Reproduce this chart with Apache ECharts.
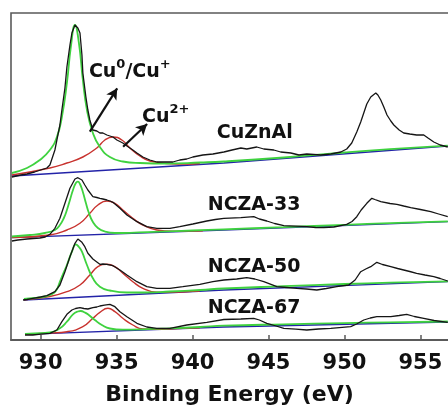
<!DOCTYPE html>
<html>
<head>
<meta charset="utf-8">
<script src="https://cdn.jsdelivr.net/npm/echarts@6/dist/echarts.min.js"></script>
<style>
  html, body { margin: 0; padding: 0; background: #ffffff; }
  #chart { width: 448px; height: 409px; }
</style>
</head>
<body>
<div id="chart"></div>
<script>
// Cu 2p XPS spectra, stacked with vertical offsets (intensity in a.u.)
const energyTicks = [930, 935, 940, 945, 950, 955];
const sampleNames = ['CuZnAl', 'NCZA-33', 'NCZA-50', 'NCZA-67'];
const peakNames = ['{n|Cu}{s|0}{n|/Cu}{s|+}', '{n|Cu}{s|2+}'];

// ---- CuZnAl ----
const cuznalRaw = [[928.11,163],[928.7,165],[929.1,166],[929.6,168],[930.41,172],[930.61,175],[930.94,190],[931.07,200],[931.27,215],[931.4,230],[931.6,252],[931.73,273],[931.93,295],[932.06,307],[932.26,315],[932.45,312],[932.59,307],[932.72,285],[932.78,267],[932.98,243],[933.11,230],[933.24,220],[933.44,210],[933.7,209],[933.9,207],[934.1,207],[934.36,205],[934.56,204],[934.76,203],[935.02,200],[935.41,197],[935.68,194],[936.07,190],[936.34,187],[936.73,183],[937.19,180],[937.65,178],[938.31,178],[938.7,178],[939.16,180],[939.62,181],[940.02,183],[940.68,185],[941.34,186],[942.06,188],[942.6,190],[943.18,192],[943.57,191],[944.23,193],[944.69,191],[945.35,190],[945.8,188],[946.47,187],[947.0,185],[947.52,186],[948.44,185],[949.1,186],[949.76,188],[950.15,191],[950.48,197],[950.81,208],[951.07,218],[951.27,227],[951.47,236],[951.73,243],[952.06,247],[952.2,245],[952.39,240],[952.59,233],[952.8,225],[953.05,219],[953.25,215],[953.6,210],[953.9,207],[954.3,206],[954.75,205],[955.22,205],[955.5,202],[955.88,198],[956.3,195],[956.8,193]];
const cuznalCu0 = [[928.11,167],[929.1,172],[929.95,180],[930.61,190],[931.07,203],[931.4,223],[931.73,257],[931.99,293],[932.26,315],[932.52,297],[932.78,260],[933.05,230],[933.44,207],[933.9,193],[934.56,183],[935.41,178.5],[936.53,177],[938.31,176.5],[940.5,177.5],[942.06,178.5],[946,182.5],[950,187.5],[953,190.8],[956.8,194.3]];
const cuznalCu2 = [[928.11,165],[930.61,172],[931.73,177],[932.78,183],[933.7,192],[934.23,200],[934.76,203],[935.35,200],[935.88,192],[936.53,184],[937.19,179],[938.31,176.5],[939.5,176],[940.48,176.5]];
const cuznalBg = [[928.11,164],[942.06,177],[956.8,194]];

// ---- NCZA-33 ----
const ncza33Raw = [[928.11,99],[928.5,100],[929.1,101],[929.5,101.5],[929.95,102],[930.3,103],[930.61,105.7],[930.94,111.7],[931.27,121.7],[931.6,136.7],[931.93,151.7],[932.26,161],[932.45,162.3],[932.72,160],[932.91,155],[933.11,150],[933.44,143.3],[933.7,142.5],[933.9,141.7],[934.1,141],[934.36,140],[934.56,139],[934.76,137.7],[935.22,131.7],[935.68,125],[936.34,118.3],[936.99,113.3],[937.65,111.7],[938.51,111.7],[939.16,113.3],[940.02,116],[940.94,119],[941.5,120.5],[942.06,121.7],[943.18,122.3],[944.03,123.3],[944.4,121],[944.89,119],[945.4,116.5],[946.01,114.3],[946.8,113.8],[947.52,113.3],[948.1,112.5],[948.64,112.3],[949.3,113],[950.15,115.7],[950.5,118.5],[950.81,123.3],[951.1,130],[951.47,136.7],[951.8,141.7],[952.0,140.5],[952.39,138.3],[953.0,136.5],[953.45,135.7],[953.9,134],[954.36,132.3],[955.0,130.5],[955.68,128.3],[956.2,126],[956.8,123.3]];
const ncza33Cu0 = [[928.11,103.5],[929.3,105],[930.28,107],[930.94,110],[931.27,115],[931.53,122],[931.73,130],[931.93,140],[932.13,150],[932.32,157],[932.45,158.3],[932.59,156],[932.78,148],[932.98,137],[933.18,127],[933.44,118],[933.77,112],[934.23,108.5],[934.89,107],[935.88,107.2],[937.85,108.3],[940,109.5],[942.06,110.7],[946,112.8],[950,115.2],[953,116.8],[956.8,118.6]];
const ncza33Cu2 = [[928.11,102.5],[930.61,105],[931.73,110],[932.59,116.7],[933.24,126.7],[933.77,135],[934.36,139],[934.89,136.7],[935.41,130],[936.07,121.7],[936.73,115],[937.65,110],[938.7,108.7],[940.02,109],[940.68,109.3]];
const ncza33Bg = [[928.11,102.3],[942.06,110],[956.8,118.3]];

// ---- NCZA-50 ----
const ncza50Raw = [[928.84,40],[929.1,40.5],[929.49,41.7],[930.0,43],[930.41,44.3],[930.94,48.3],[931.27,55],[931.6,68.3],[931.93,83.3],[932.26,96.7],[932.45,101],[932.72,97.7],[932.91,93.3],[933.11,86.7],[933.44,81],[933.7,78],[933.9,75.7],[934.1,76],[934.36,75.7],[934.76,74.3],[935.22,70],[935.68,65],[936.34,58.3],[936.99,53.3],[937.65,51.7],[938.51,51.7],[939.36,53.3],[940.48,55.7],[941.34,58.3],[942.06,60],[942.91,61],[943.57,62.3],[944.1,61],[944.69,58.3],[945.55,53.3],[946.2,52.5],[946.86,51.7],[947.5,51],[948.18,50],[948.8,51.5],[949.49,53.3],[950.28,55],[950.7,60],[951.07,68.3],[951.4,71],[951.73,73.3],[952.13,77.7],[952.5,75.5],[953.05,73.3],[953.5,71.5],[953.9,70],[954.3,68.5],[954.75,66.7],[955.3,65],[955.88,63.3],[956.3,61.5],[956.8,59]];
const ncza50Cu0 = [[928.9,41],[929.6,42],[930.28,43.5],[930.61,45],[931.0,49],[931.27,58.3],[931.53,68],[931.73,75],[932.06,88.3],[932.32,95.7],[932.52,93],[932.72,88.3],[933.05,75],[933.44,61.7],[933.9,53.3],[934.56,49.5],[935.68,47.5],[936.99,47.5],[938.5,48.5],[940.5,50],[942.06,51.5],[946,53.8],[950,56],[953,57.3],[956.8,58.6]];
const ncza50Cu2 = [[928.9,40.3],[930.61,43.5],[931.73,48.3],[932.59,55],[933.24,65],[933.77,73.3],[934.36,75.7],[934.89,73.3],[935.41,66.7],[936.07,58.3],[936.73,51.7],[937.65,47.7],[938.7,47.9],[940.02,48.6],[940.48,48.9]];
const ncza50Bg = [[928.9,40],[942.06,50],[956.8,58.3]];

// ---- NCZA-67 ----
const ncza67Raw = [[928.97,5],[929.49,5],[930.0,5.8],[930.61,6.7],[931.07,10],[931.4,18.3],[931.73,25.7],[932.06,30],[932.3,31.5],[932.59,32.3],[932.85,31.5],[933.11,31],[933.44,32.3],[933.7,33],[933.9,34],[934.2,34.8],[934.56,35.7],[934.89,33.3],[935.22,28.3],[935.68,23.3],[936.34,16.7],[936.99,13],[937.65,11.7],[938.51,11.7],[939.62,15],[940.94,17.7],[942.06,20.5],[943.18,21],[944.03,21.7],[944.4,20],[944.89,16.7],[945.5,14],[946.01,11.7],[946.8,10.8],[947.52,10],[948.3,11],[949.1,11.7],[950.41,13.3],[950.8,16],[951.27,20],[951.7,22],[952.13,23.3],[953.05,23.3],[953.6,24.5],[954.1,25.7],[954.6,23.5],[955.22,21.7],[955.9,19.5],[956.8,17.7]];
const ncza67Cu0 = [[928.97,6.2],[929.6,6.6],[930.61,7.5],[931.27,11.7],[931.73,18.3],[932.13,25.7],[932.45,28.5],[932.65,29],[932.91,27.5],[933.11,25.7],[933.57,20],[934.03,15],[934.56,11.5],[935.41,10.3],[936.73,10.6],[938.5,11.6],[940.5,13],[942.06,14.3],[946,15.7],[950,16.9],[953,17.7],[956.8,18.5]];
const ncza67Cu2 = [[928.97,5.8],[930.61,7],[931.73,8.3],[932.78,13.3],[933.44,21.7],[933.9,27.7],[934.43,31.7],[934.89,28.3],[935.41,21.7],[936.07,15],[936.73,11],[937.65,10.7],[938.7,11.3],[940.02,11.9],[940.48,12.1]];
const ncza67Bg = [[928.97,5.7],[942.06,13],[956.8,18]];

const rawSets = [cuznalRaw, ncza33Raw, ncza50Raw, ncza67Raw];
const cu0Sets = [cuznalCu0, ncza33Cu0, ncza50Cu0, ncza67Cu0];
const cu2Sets = [cuznalCu2, ncza33Cu2, ncza50Cu2, ncza67Cu2];
const bgSets = [cuznalBg, ncza33Bg, ncza50Bg, ncza67Bg];

const FONT = 'DejaVu Sans';
const COLORS = { raw: '#151515', cu0: '#3fd23f', cu2: '#c8322e', bg: '#2323a8', frame: '#5a5a5a' };

function curve(name, data, color, width, smooth, z) {
  return {
    type: 'line', name, data, symbol: 'none', showSymbol: false,
    smooth, lineStyle: { color, width }, z, silent: true, animation: false
  };
}

const series = [];
for (let i = 0; i < sampleNames.length; i++) {
  series.push(curve(sampleNames[i] + ' background', bgSets[i], COLORS.bg, 1.3, false, 2));
  series.push(curve(sampleNames[i] + ' Cu2+', cu2Sets[i], COLORS.cu2, 1.4, 0.5, 3));
  series.push(curve(sampleNames[i] + ' Cu0/Cu+', cu0Sets[i], COLORS.cu0, 1.8, 0.5, 4));
  series.push(curve(sampleNames[i], rawSets[i], COLORS.raw, 1.3, false, 5));
}

// arrows pointing from the fitted components to their labels
series[3].markLine = {
  silent: true, animation: false,
  symbol: ['none', 'arrow'], symbolSize: [9, 11],
  label: { show: false },
  lineStyle: { color: '#111', width: 2.2, type: 'solid' },
  data: [
    [{ coord: [933.24, 208.3] }, { coord: [935.04, 251.7] }],
    [{ coord: [935.43, 193.3] }, { coord: [937.01, 216] }]
  ]
};

const chart = echarts.init(document.getElementById('chart'), null, { renderer: 'canvas' });
chart.setOption({
  backgroundColor: '#ffffff',
  animation: false,
  grid: {
    left: 11, top: 13, width: 455, height: 327,
    outerBoundsMode: 'none', containLabel: false,
    show: true, borderColor: COLORS.frame, borderWidth: 1.6, backgroundColor: 'transparent'
  },
  xAxis: {
    type: 'value', min: 928.05, max: 958,
    axisLine: { show: true, lineStyle: { color: COLORS.frame, width: 1.8 } },
    axisTick: { show: true, inside: true, length: 5, lineStyle: { color: COLORS.frame, width: 1.5 }, customValues: energyTicks },
    axisLabel: { customValues: energyTicks, fontFamily: FONT, fontWeight: 'bold', fontSize: 21, color: '#111', margin: 13 },
    splitLine: { show: false },
    name: 'Binding Energy (eV)', nameLocation: 'middle', nameGap: 44,
    nameTextStyle: { fontFamily: FONT, fontWeight: 'bold', fontSize: 22, color: '#111', padding: [0, 18, 0, 0] }
  },
  yAxis: { type: 'value', min: 0, max: 327, show: false, splitLine: { show: false } },
  series
});

// text annotations anchored in data coordinates
const toPx = (e, v) => chart.convertToPixel({ gridIndex: 0 }, [e, v]);
const baseText = { fontFamily: FONT, fontWeight: 'bold', fontSize: 19, fill: '#111' };
const richText = {
  n: { fontFamily: FONT, fontWeight: 'bold', fontSize: 19, fill: '#111', lineHeight: 24, verticalAlign: 'bottom' },
  s: { fontFamily: FONT, fontWeight: 'bold', fontSize: 13, fill: '#111', lineHeight: 24, verticalAlign: 'top' }
};
const annotations = [
  { text: sampleNames[0], at: [941.6, 207], align: 'left' },
  { text: sampleNames[1], at: [941.0, 135], align: 'left' },
  { text: sampleNames[2], at: [941.0, 73], align: 'left' },
  { text: sampleNames[3], at: [941.0, 31.5], align: 'left' },
  { text: peakNames[0], at: [935.87, 270], align: 'center', rich: true },
  { text: peakNames[1], at: [938.24, 225], align: 'center', rich: true }
];
chart.setOption({
  graphic: annotations.map(a => {
    const p = toPx(a.at[0], a.at[1]);
    const style = Object.assign({ text: a.text, align: a.align, verticalAlign: 'middle' }, baseText);
    if (a.rich) style.rich = richText;
    return { type: 'text', x: p[0], y: p[1], z: 10, silent: true, style };
  })
});
</script>
</body>
</html>
